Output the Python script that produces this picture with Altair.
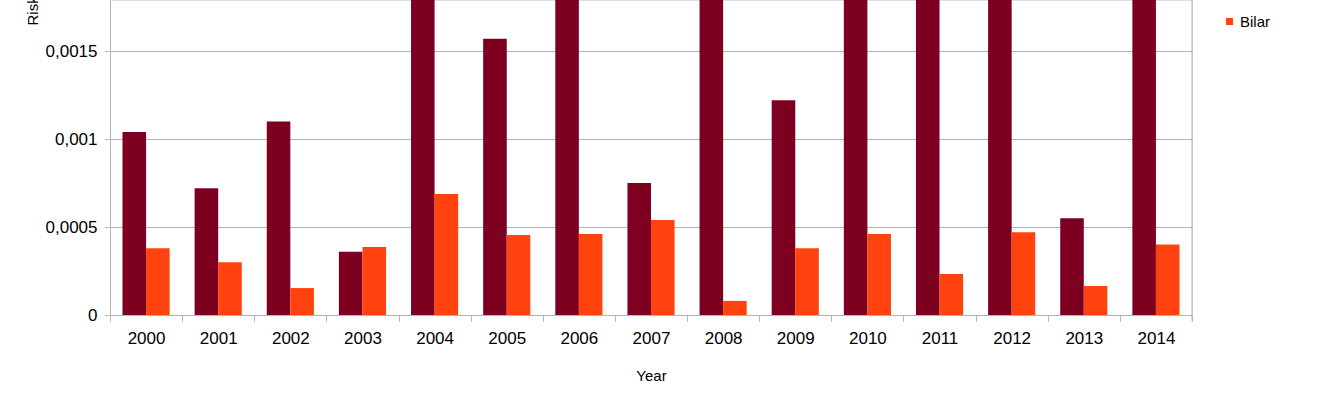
import altair as alt
import pandas as pd

years = [str(y) for y in range(2000, 2015)]
series = ["Motorcyklar", "Bilar"]
motorcyklar = [0.00104, 0.00072, 0.00110, 0.00036, 0.0025, 0.00157, 0.0026, 0.00075,
               0.0024, 0.00122, 0.0027, 0.0023, 0.0025, 0.00055, 0.0024]
bilar = [0.00038, 0.00030, 0.000153, 0.000386, 0.000688, 0.000455, 0.00046, 0.00054,
         0.00008, 0.00038, 0.00046, 0.000233, 0.00047, 0.000165, 0.00040]
colors = ["#7e0021", "#ff420e"]

rows = []
for i, y in enumerate(years):
    rows.append({"Year": y, "Serie": series[0], "Risk": motorcyklar[i]})
    rows.append({"Year": y, "Serie": series[1], "Risk": bilar[i]})
df = pd.DataFrame(rows)

FONT = "Liberation Sans"
W, H = 1082, 315

bars = alt.Chart(df).mark_bar(clip=True).encode(
    x=alt.X("Year:N", sort=years,
            scale=alt.Scale(paddingInner=0, paddingOuter=0),
            axis=alt.Axis(title="Year", labelAngle=0, tickBand="extent",
                          tickSize=6, labelPadding=9, titlePadding=22,
                          domainColor="#b3b3b3", tickColor="#b3b3b3",
                          labelFontSize=17, titleFontSize=15,
                          labelFont=FONT, titleFont=FONT,
                          labelColor="#000000", titleColor="#000000",
                          titleFontWeight="normal")),
    xOffset=alt.XOffset("Serie:N", sort=series,
                        scale=alt.Scale(paddingInner=0, paddingOuter=0.53)),
    y=alt.Y("Risk:Q",
            scale=alt.Scale(domain=[0, 0.00179], nice=False),
            axis=alt.Axis(title="Risk", values=[0, 0.0005, 0.001, 0.0015],
                          labelExpr="replace(format(datum.value, ''), '.', ',')",
                          tickSize=5, labelPadding=8,
                          domainColor="#b3b3b3", tickColor="#b3b3b3",
                          gridColor="#b3b3b3",
                          labelFontSize=17, titleFontSize=15,
                          labelFont=FONT, titleFont=FONT,
                          labelColor="#000000", titleColor="#000000",
                          titleFontWeight="normal",
                          titleAngle=-90, titleAlign="left",
                          titleBaseline="alphabetic",
                          titleX=-73, titleY=25)),
    color=alt.Color("Serie:N", sort=series,
                    scale=alt.Scale(domain=series, range=colors),
                    legend=alt.Legend(title=None, orient="none",
                                      legendX=1112, legendY=-18,
                                      symbolType="square", symbolSize=49,
                                      labelFontSize=15, labelFont=FONT,
                                      labelColor="#000000", rowPadding=16,
                                      labelOffset=3)),
)

border = alt.Chart(pd.DataFrame({"a": [0]})).mark_rule(color="#b3b3b3").encode(
    x=alt.value(W), y=alt.value(0), y2=alt.value(H + 6)
)

chart = alt.layer(bars, border).properties(
    width=W, height=H,
    autosize=alt.AutoSizeParams(type="none"),
    padding={"left": 110, "top": 0, "right": 150, "bottom": 103},
).configure_view(stroke=None).configure(background="#ffffff")

chart.save("out.html", embed_options={"renderer": "svg", "actions": False})
